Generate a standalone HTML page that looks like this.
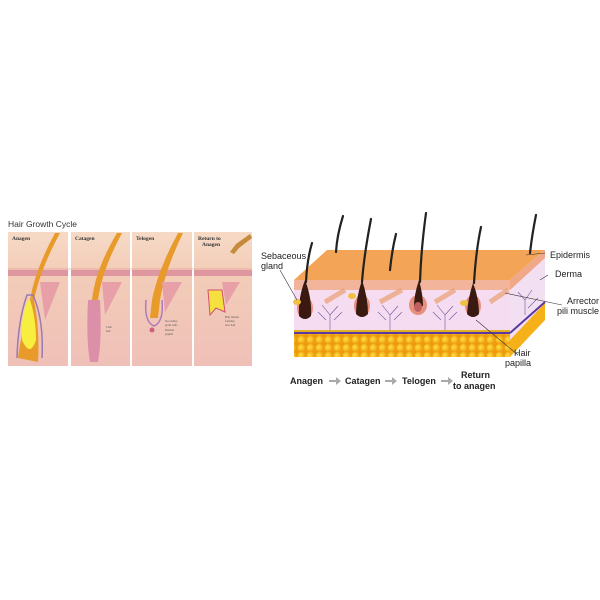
<!DOCTYPE html>
<html><head><style>
html,body{margin:0;padding:0;background:#fff;}
body{width:600px;height:600px;position:relative;overflow:hidden;font-family:"Liberation Sans",sans-serif;}
</style></head><body>
<svg width="600" height="600" viewBox="0 0 600 600" xmlns="http://www.w3.org/2000/svg" style="position:absolute;left:0;top:0">
<defs>
<linearGradient id="lp" x1="0" y1="0" x2="0" y2="1">
<stop offset="0" stop-color="#f6dac6"/><stop offset="0.3" stop-color="#f3cdb8"/><stop offset="1" stop-color="#efc0b8"/></linearGradient>
<radialGradient id="fat" cx="0.4" cy="0.4" r="0.6"><stop offset="0" stop-color="#ffe040"/><stop offset="1" stop-color="#f0a010"/></radialGradient>
<pattern id="fp" width="9" height="8" patternUnits="userSpaceOnUse">
<rect width="9" height="8" fill="#ec9a10"/><circle cx="4.5" cy="4" r="4" fill="url(#fat)"/></pattern>
</defs>
<text x="8" y="227" font-size="8.5" fill="#333">Hair Growth Cycle</text>
<g>
<rect x="8" y="232" width="60" height="134" fill="url(#lp)"/>
<rect x="71" y="232" width="59" height="134" fill="url(#lp)"/>
<rect x="132" y="232" width="60" height="134" fill="url(#lp)"/>
<rect x="194" y="232" width="58" height="134" fill="url(#lp)"/>
<g fill="#d98a9a" opacity="0.8">
<rect x="8" y="270" width="60" height="6"/><rect x="71" y="270" width="59" height="6"/><rect x="132" y="270" width="60" height="6"/><rect x="194" y="270" width="58" height="6"/></g>
<g stroke="#d88" stroke-width="0.6" fill="none"><line x1="8" y1="269" x2="252" y2="269"/></g>
<path d="M55 233 Q35 270 30 300 Q20 340 18 358 L38 362 Q40 330 34 300 Q40 270 60 233Z" fill="#e89a2a"/>
<path d="M22 340 Q20 318 28 300 L30 300 Q36 318 36 340 Q30 358 22 340Z" fill="#f8ee40"/>
<path d="M17 358 Q18 320 27 295 L33 295 Q44 320 42 358" fill="none" stroke="#9a7ab0" stroke-width="1.5"/>
<path d="M40 282 L60 282 L45 320Z" fill="#e7a0a8"/>
<path d="M117 233 Q95 270 92 300 L92 330 L97 330 L98 300 Q102 270 122 233Z" fill="#e89a2a"/>
<path d="M88 300 Q86 340 90 362 L98 362 Q102 340 100 300Z" fill="#dc8fa8"/>
<path d="M102 282 L122 282 L105 315Z" fill="#e7a0a8"/>
<path d="M178 233 Q158 270 152 300 L150 318 L158 318 L160 300 Q165 270 183 233Z" fill="#e89a2a"/>
<path d="M146 300 Q144 322 154 326 Q164 322 162 300" fill="none" stroke="#b07ab8" stroke-width="1.5"/>
<circle cx="152" cy="330" r="2.5" fill="#d06080"/>
<path d="M162 282 L182 282 L165 312Z" fill="#e7a0a8"/>
<path d="M250 234 L236 244 L230 252 L234 254 L239 248 L252 238Z" fill="#c58a3a"/>
<path d="M208 290 L222 290 L225 312 L216 308 L210 315 Z" fill="#f5e040" stroke="#d05070" stroke-width="1"/>
<path d="M222 282 L240 282 L226 305Z" fill="#e7a0a8"/>
<g font-family="Liberation Serif,serif" font-weight="bold" font-size="5.5" fill="#333">
<text x="12" y="240">Anagen</text><text x="75" y="240">Catagen</text><text x="136" y="240">Telogen</text><text x="198" y="240">Return to</text><text x="202" y="246">Anagen</text></g>
<g font-family="Liberation Serif,serif" font-size="3" fill="#555">
<text x="106" y="328">Club</text><text x="106" y="332">hair</text>
<text x="165" y="322">Secondary</text><text x="165" y="326">germ cells</text>
<text x="165" y="331">Dermal</text><text x="165" y="335">papilla</text>
<text x="225" y="318">Hair matrix</text><text x="225" y="322">forming</text><text x="225" y="326">new hair</text></g>
</g>
<polygon points="294,280 327,250 545,250 510,280" fill="#f4a456"/>
<polygon points="510,280 545,250 545,320 510,357" fill="#f2dff2"/>
<polygon points="510,340 545,303 545,320 510,357" fill="#f6b018"/>
<line x1="510" y1="333" x2="545" y2="302" stroke="#5a3aa0" stroke-width="2"/>
<polygon points="510,280 545,250 545,258 510,290" fill="#f0a888"/>
<rect x="294" y="280" width="216" height="10" fill="#f2b49a"/>
<rect x="294" y="290" width="216" height="42" fill="#f6dcf0"/>
<g stroke="#e8a070" stroke-width="5" opacity="0.7">
<line x1="325" y1="302" x2="345" y2="290"/><line x1="380" y1="302" x2="402" y2="290"/><line x1="435" y1="302" x2="455" y2="290"/><line x1="490" y1="302" x2="508" y2="290"/></g>
<rect x="294" y="330" width="216" height="2" fill="#e0b020"/>
<rect x="294" y="332" width="216" height="2" fill="#5a3aa0"/>
<rect x="294" y="334" width="216" height="23" fill="url(#fp)"/>
<g stroke="#6a5aa0" stroke-width="0.6" fill="none">
<path d="M330 330 L330 315 L322 305 M330 315 L338 306 M326 320 L318 312 M334 320 L342 312"/>
<path d="M390 330 L390 315 L382 305 M390 315 L398 306 M386 320 L378 312 M394 320 L402 312"/>
<path d="M445 330 L445 315 L437 305 M445 315 L453 306 M441 320 L433 312 M449 320 L457 312"/>
<path d="M525 315 L525 300 L518 292 M525 300 L532 290 M528 308 L538 298"/>
</g>
<g>
<ellipse cx="305" cy="308" rx="8" ry="11" fill="#e89080"/><path d="M299 316 Q298 298 305 280 Q312 298 311 316 Q305 322 299 316Z" fill="#3a1a10"/>
<ellipse cx="362" cy="306" rx="8" ry="11" fill="#e89080"/><path d="M356 314 Q356 298 362 280 Q368 298 368 314 Q362 320 356 314Z" fill="#3a1a10"/>
<ellipse cx="418" cy="305" rx="9" ry="10" fill="#e89080"/><path d="M414 306 Q414 295 419 280 Q423 295 423 306Z" fill="#3a1a10"/><ellipse cx="418" cy="307" rx="4" ry="5" fill="#c06060"/>
<ellipse cx="473" cy="306" rx="8" ry="11" fill="#e89080"/><path d="M467 314 Q468 298 473 283 Q479 298 479 314 Q473 320 467 314Z" fill="#3a1a10"/>
<ellipse cx="297" cy="302" rx="4" ry="3" fill="#f2c040"/><ellipse cx="352" cy="296" rx="4" ry="3" fill="#f2c040"/><ellipse cx="464" cy="303" rx="4" ry="3" fill="#f2c040"/>
</g>
<g stroke="#222" stroke-width="2.2" fill="none" stroke-linecap="round">
<path d="M306 282 Q307 260 312 243"/><path d="M362 282 Q364 255 371 219"/><path d="M420 282 Q421 250 426 213"/>
<path d="M474 283 Q476 250 481 227"/><path d="M336 252 Q337 235 343 216"/><path d="M390 270 Q392 250 396 234"/>
<path d="M530 253 Q532 235 536 215"/>
</g>
<g stroke="#333" stroke-width="0.6">
<line x1="280" y1="270" x2="297" y2="300"/><line x1="545" y1="253" x2="526" y2="255"/>
<line x1="548" y1="275" x2="540" y2="280"/><line x1="505" y1="293" x2="562" y2="305"/>
<line x1="476" y1="320" x2="518" y2="355"/></g>
<g font-size="9" fill="#222">
<text x="261" y="259">Sebaceous</text><text x="261" y="269">gland</text>
<text x="550" y="258">Epidermis</text><text x="555" y="277">Derma</text>
<text x="567" y="304">Arrector</text><text x="557" y="314">pili muscle</text>
<text x="514" y="356">Hair</text><text x="505" y="366">papilla</text></g>
<g font-size="9" font-weight="bold" fill="#222">
<text x="290" y="384">Anagen</text><text x="345" y="384">Catagen</text><text x="402" y="384">Telogen</text>
<text x="461" y="378">Return</text><text x="453" y="389">to anagen</text></g>
<g fill="#aaa"><path d="M329 380 h7 v-3 l5 4 l-5 4 v-3 h-7z"/><path d="M385 380 h7 v-3 l5 4 l-5 4 v-3 h-7z"/><path d="M441 380 h7 v-3 l5 4 l-5 4 v-3 h-7z"/></g>
</svg>
</body></html>
